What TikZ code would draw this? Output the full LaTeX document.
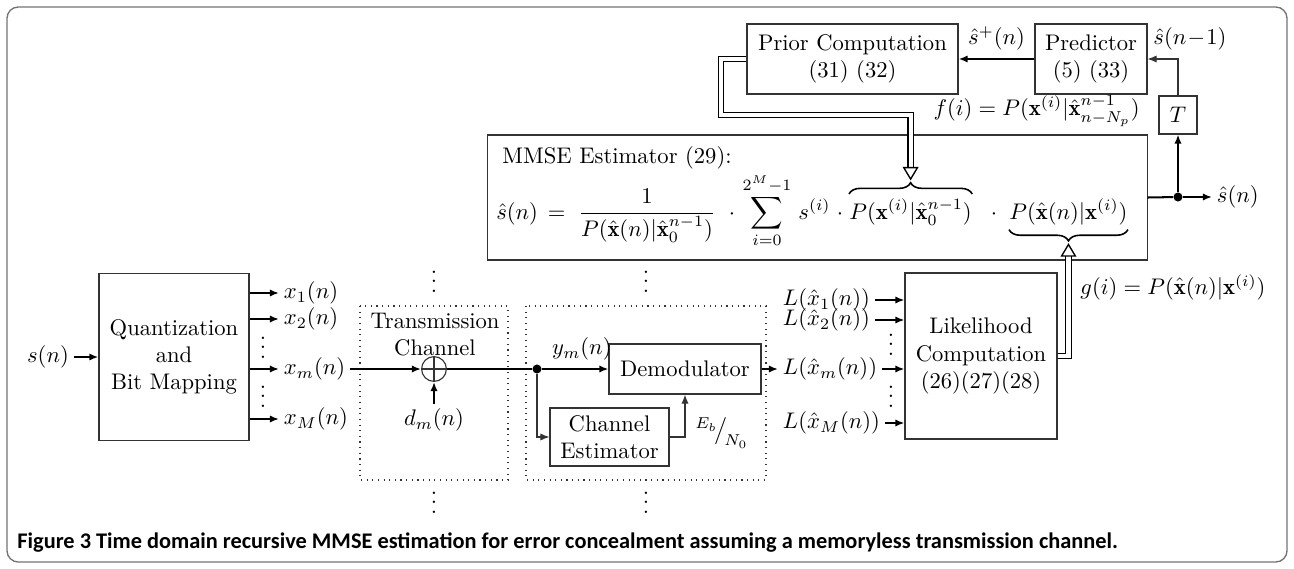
\documentclass[tikz,border=0pt]{standalone}
\usepackage{amsmath}
\usepackage{amssymb}
\usepackage{fontspec}
\newfontfamily\captionfont{Carlito}
\usetikzlibrary{positioning, arrows.meta, calc, decorations.pathreplacing}

\begin{document}
\begin{tikzpicture}[
        x=0.443pt, y=-0.443pt,
        block/.style = {draw=black!80, line width=0.5pt, align=center, inner sep=0pt},
        arrow/.style = {-{Latex[length=4pt,width=3.2pt]}, line width=0.9pt},
        thinarrow/.style = {-{Latex[length=4pt,width=3.2pt]}, line width=0.5pt, draw=black!80},
        dblarrow/.style = {double, double distance=1.8pt, line width=0.6pt, -{Triangle[open,length=6pt,width=7pt,line width=0.6pt]}},
        lbl/.style = {inner sep=2pt},
        eq/.style = {inner sep=0pt},
        dots/.style = {inner sep=0pt, anchor=base},
        chan/.style = {draw=black!80, dotted, line width=0.5pt},
        brace/.style = {decorate, decoration={brace, amplitude=5pt}, line width=0.7pt},
        junction/.style = {circle, fill, inner sep=0pt, minimum size=4pt}
        ]
    \useasboundingbox (0,0) rectangle (1294,568);
    \draw[black!55, line width=0.6pt, rounded corners=5pt] (7,7) rectangle (1287,562);

    % Blocks
    \node[block, minimum width=93.5pt, minimum height=31pt] (prior) at (852.5,59) {Prior Computation\\(31)~(32)};
    \node[block, minimum width=49.6pt, minimum height=31pt] (pred) at (1091,59) {Predictor\\(5)~(33)};
    \node[block, minimum size=16.8pt] (delay) at (1178,115) {$T$};
    \node[block, minimum width=292pt, minimum height=55.4pt] (mmse) at (817.5,197.5) {};
    \node[block, minimum width=66.5pt, minimum height=74pt] (quant) at (174,357) {Quantization\\and\\Bit Mapping};
    \node[circle, draw=black!80, line width=0.5pt, minimum size=11pt, inner sep=0pt] (adder) at (434,369) {};
    \draw[line width=0.5pt, black!80] (adder.north) -- (adder.south) (adder.west) -- (adder.east);
    \node[block, minimum width=67.3pt, minimum height=22.2pt] (demod) at (685,369) {Demodulator};
    \node[block, minimum width=52.7pt, minimum height=25.7pt] (chest) at (609.5,437) {Channel\\Estimator};
    \node[block, minimum width=67.3pt, minimum height=73.5pt] (lik) at (981,356) {Likelihood\\Computation\\(26)(27)(28)};

    % Estimator formula
    \node[anchor=west, inner sep=0pt] (mmsehead) at (502,158) {MMSE Estimator (29):};
    \node[eq, anchor=base east] (eqlhs) at (566,219) {$\hat{s}(n)\,=$};
    \node[eq, anchor=base west] (eqfrac) at (578,219) {$\displaystyle\frac{1}{P(\hat{\mathbf{x}}(n)|\hat{\mathbf{x}}_0^{n-1})}$};
    \node[eq, anchor=base] (dota) at (732,219) {$\cdot$};
    \node[eq, anchor=base] (eqsum) at (767,219) {$\displaystyle\sum_{i=0}^{2^M-1}$};
    \node[eq, anchor=base west] (sterm) at (798,219) {$s^{(i)}$};
    \node[eq, anchor=base] (dotb) at (840,219) {$\cdot$};
    \node[eq, anchor=base west] (pterm) at (849,219) {$P(\mathbf{x}^{(i)}|\hat{\mathbf{x}}_0^{n-1})$};
    \node[eq, anchor=base] (dotc) at (994,219) {$\cdot$};
    \node[eq, anchor=base west] (lterm) at (1009,219) {$P(\hat{\mathbf{x}}(n)|\mathbf{x}^{(i)})$};
    \draw[brace] ([yshift=2pt]pterm.north west) -- ([yshift=2pt]pterm.north east);
    \coordinate (obtip) at ([yshift=8pt]pterm.north);
    \draw[brace] ([yshift=-2pt]lterm.south east) -- ([yshift=-2pt]lterm.south west);
    \coordinate (ubtip) at ([yshift=-8pt]lterm.south);

    % Channel areas
    \draw[chan] (360,306) rectangle (508,480);
    \draw[chan] (526,306) rectangle (766,480);
    \node[align=center, inner sep=0pt] (chanlbl) at (435,335) {Transmission\\Channel};
    \foreach \x/\y in {434/292, 646/292, 434/513, 646/513, 263/358, 263/407, 891/355, 891/407}
        \node[dots] at (\x,\y) {$\vdots$};

    % Labels
    \node[lbl] (sn) at (48,357) {$s(n)$};
    \node[lbl, anchor=west] (x1) at (279,293) {$x_1(n)$};
    \node[lbl, anchor=west] (x2) at (279,319) {$x_2(n)$};
    \node[lbl, anchor=west] (xm) at (279,369) {$x_m(n)$};
    \node[lbl, anchor=west] (xM) at (279,419) {$x_M(n)$};
    \node[lbl] (dm) at (434,420) {$d_m(n)$};
    \node[junction] (junc) at (537,369) {};
    \node[anchor=west, inner sep=0pt] (ebn0) at (695,433) {$^{E_b}\!\big/_{\!N_0}$};
    \node[lbl, anchor=west] (L1) at (778,300) {$L(\hat{x}_1(n))$};
    \node[lbl, anchor=west] (L2) at (778,320) {$L(\hat{x}_2(n))$};
    \node[lbl, anchor=west] (Lm) at (778,369) {$L(\hat{x}_m(n))$};
    \node[lbl, anchor=west] (LM) at (778,423) {$L(\hat{x}_M(n))$};
    \node[anchor=east, inner sep=0pt] (flbl) at (1140,111) {$f(i) = P(\mathbf{x}^{(i)}|\hat{\mathbf{x}}_{n-N_p}^{n-1})$};
    \node[anchor=west, inner sep=0pt] (glbl) at (1080,287) {$g(i) = P(\hat{\mathbf{x}}(n)|\mathbf{x}^{(i)})$};
    \node[anchor=west, inner sep=0pt] (shatprev) at (1153,39) {$\hat{s}(n\!-\!1)$};
    \node[junction] (odot) at (1178,197) {};
    \node[lbl, anchor=west] (shat) at (1212,197) {$\hat{s}(n)$};

    % Arrows
    \draw[arrow] (sn) -- (quant);
    \foreach \n in {x1,x2,xm,xM}
        \draw[arrow] (quant.east |- \n.west) -- (\n.west);
    \draw[arrow] (xm) -- (adder);
    \draw[arrow] (dm) -- (adder);
    \draw[line width=0.9pt] (adder) -- (junc);
    \draw[arrow] (junc) -- node[above, pos=0.6] {$y_m(n)$} (demod);
    \draw[thinarrow] (junc) |- (chest);
    \draw[thinarrow] (chest) -| (demod);
    \draw[arrow] (demod) -- (Lm);
    \foreach \n in {L1,L2,Lm,LM}
        \draw[arrow] (\n.east) -- (\n.east -| lik.west);
    \draw[dblarrow] (lik.east) -| (ubtip);
    \draw[line width=0.9pt] (mmse.east) -- (odot);
    \draw[arrow] (odot) -- (shat);
    \draw[arrow] (odot) -- (delay);
    \draw[thinarrow] (delay.north) |- (pred.east);
    \draw[arrow] (pred) -- node[above] {$\hat{s}^{+}(n)$} (prior);
    \coordinate (bend) at (721,115);
    \draw[dblarrow] (prior.west) -| (bend) -| (obtip);

    % Caption
    \node[anchor=west, inner sep=0pt, font=\captionfont\bfseries\fontsize{9.9}{12}\selectfont] (caption) at (17,543) {Figure 3 Time domain recursive MMSE estimation for error concealment assuming a memoryless transmission channel.};
\end{tikzpicture}
\end{document}
